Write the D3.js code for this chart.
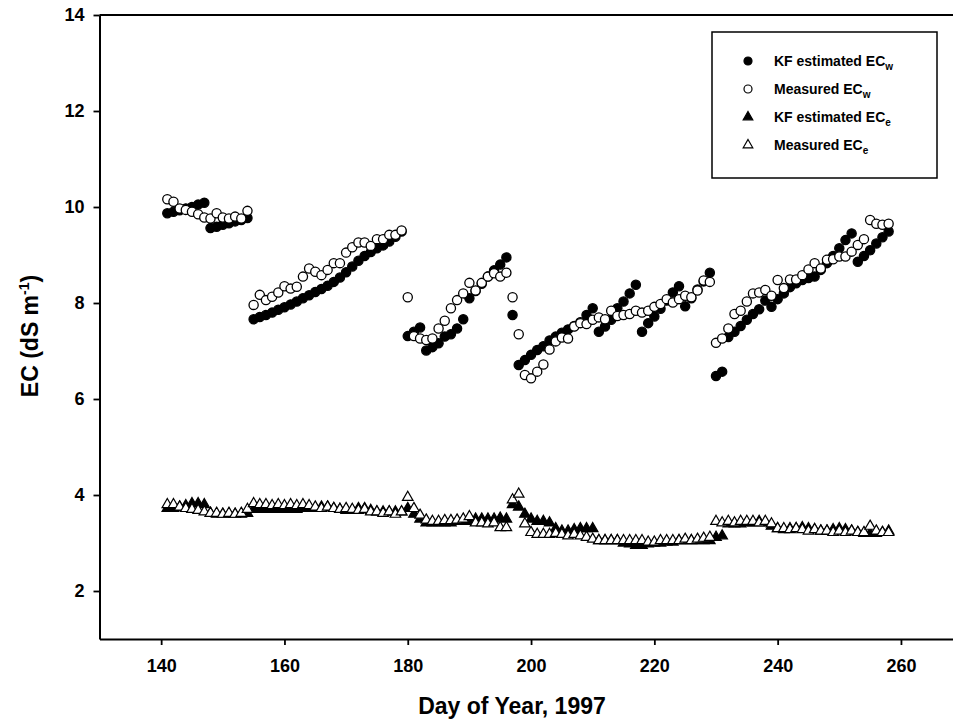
<!DOCTYPE html>
<html>
<head>
<meta charset="utf-8">
<script src="https://cdn.jsdelivr.net/npm/d3@7"></script>
<style>
  html, body { margin: 0; padding: 0; background: #fff; }
  svg { display: block; font-family: Arial, "Liberation Sans", Helvetica, sans-serif; }
</style>
</head>
<body>
<svg id="chart" width="953" height="727"></svg>
<script>
// Daily records, day of year 141 to 258 (1997)
const firstDay = 141;
const lastDay = 258;

// Kalman-filter estimate of soil water EC (dS/m)
const kfECw = [
  9.87, 9.90, 9.93, 9.97, 10.00, 10.05, 10.09,
  9.56, 9.59, 9.63, 9.66, 9.70, 9.73, 9.77,
  7.66, 7.71, 7.75, 7.80, 7.86, 7.91, 7.97, 8.03, 8.10, 8.16, 8.23, 8.29, 8.36,
  8.44, 8.53, 8.64, 8.76, 8.88, 8.98, 9.06, 9.14, 9.20, 9.28, 9.38, 9.49,
  7.31,
  7.40, 7.49, 7.01, 7.08, 7.16, 7.30, 7.35, 7.47, 7.66, 8.10, 8.25, 8.40, 8.55, 8.68, 8.80, 8.95,
  7.75,
  6.71, 6.81, 6.92, 7.02, 7.10, 7.22, 7.30, 7.38, 7.45, 7.52, 7.60, 7.75, 7.89,
  7.40, 7.51, 7.65, 7.89, 8.03, 8.20, 8.38,
  7.40, 7.58, 7.72, 7.88, 8.05, 8.22, 8.35,
  7.93, 8.10, 8.28, 8.45, 8.63,
  6.48, 6.57, 7.29, 7.40, 7.52, 7.65, 7.77, 7.87, 8.05, 7.92, 8.08, 8.20, 8.33, 8.41,
  8.48, 8.52, 8.55, 8.69, 8.83, 8.98, 9.14, 9.31, 9.45, 8.86, 8.98, 9.10, 9.24, 9.37, 9.49
];

// Measured soil water EC (dS/m)
const measECw = [
  10.16, 10.11, 9.97, 9.94, 9.90, 9.85, 9.78, 9.76, 9.87, 9.78, 9.76, 9.80, 9.76, 9.92,
  7.96, 8.17, 8.06, 8.13, 8.22, 8.35, 8.30, 8.34, 8.55, 8.72, 8.65, 8.58, 8.69,
  8.83, 8.83, 9.05, 9.16, 9.26, 9.26, 9.19, 9.33, 9.33, 9.42, 9.42, 9.51,
  8.12,
  7.31, 7.26, 7.23, 7.26, 7.47, 7.63, 7.89, 8.06, 8.20, 8.42, 8.26, 8.42, 8.55, 8.62, 8.55, 8.63,
  8.12,
  7.35,
  6.50, 6.43, 6.57, 6.72, 7.03, 7.20, 7.28, 7.26, 7.51, 7.58, 7.56, 7.65, 7.70, 7.66, 7.84, 7.73,
  7.75, 7.77, 7.84, 7.80, 7.84, 7.92, 7.98, 8.08, 8.01, 8.08, 8.15, 8.12, 8.26, 8.47, 8.44,
  7.17, 7.26, 7.47, 7.77, 7.84, 8.03, 8.20, 8.22, 8.27, 8.15, 8.48, 8.31, 8.49, 8.49, 8.58,
  8.70, 8.83, 8.72, 8.90, 8.91, 8.97, 8.97, 9.07, 9.21, 9.33, 9.73, 9.65, 9.63, 9.65
];

// Kalman-filter estimate of saturated-paste extract EC (dS/m)
const kfECe = [
  3.72, 3.72, 3.75, 3.78, 3.82, 3.82, 3.80, 3.62, 3.60, 3.60, 3.60, 3.60, 3.60, 3.62,
  3.70, 3.70, 3.70, 3.70, 3.70, 3.70, 3.70, 3.70, 3.72, 3.72, 3.72, 3.75, 3.75,
  3.72, 3.70, 3.68, 3.68, 3.72, 3.72, 3.68, 3.65, 3.65, 3.65, 3.65, 3.65,
  3.72,
  3.60, 3.50, 3.42, 3.42, 3.42, 3.42, 3.42, 3.45, 3.45, 3.45, 3.50, 3.50, 3.50, 3.50, 3.52, 3.50,
  3.80, 3.75,
  3.60, 3.50, 3.45, 3.45, 3.42, 3.30, 3.25, 3.25, 3.28, 3.30, 3.30, 3.30, 3.05, 3.05, 3.05, 3.05,
  3.00, 2.98, 2.95, 2.95, 2.98, 3.00, 3.00, 3.02, 3.02, 3.05, 3.05, 3.05, 3.05, 3.05, 3.05,
  3.12, 3.15, 3.40, 3.40, 3.40, 3.42, 3.42, 3.45, 3.42, 3.35, 3.30, 3.28, 3.30, 3.30, 3.32,
  3.30, 3.28, 3.25, 3.25, 3.28, 3.30, 3.28, 3.25, 3.22, 3.20, 3.20, 3.20, 3.22, 3.25
];

// Measured saturated-paste extract EC (dS/m)
const measECe = [
  3.80, 3.80, 3.75, 3.72, 3.70, 3.68, 3.65, 3.62, 3.62, 3.60, 3.62, 3.60, 3.62, 3.70,
  3.82, 3.80, 3.80, 3.78, 3.80, 3.78, 3.80, 3.78, 3.80, 3.78, 3.75, 3.72, 3.75,
  3.72, 3.70, 3.72, 3.70, 3.68, 3.70, 3.65, 3.65, 3.62, 3.65, 3.60, 3.65,
  3.95,
  3.72, 3.58, 3.48, 3.45, 3.45, 3.47, 3.47, 3.48, 3.50, 3.55, 3.42, 3.42, 3.40, 3.42, 3.32, 3.32,
  3.90, 4.02,
  3.40, 3.22, 3.18, 3.18, 3.18, 3.20, 3.18, 3.15, 3.18, 3.15, 3.12, 3.08, 3.05, 3.05, 3.05, 3.05,
  3.05, 3.05, 3.05, 3.05, 3.02, 3.02, 3.05, 3.05, 3.05, 3.05, 3.08, 3.05, 3.08, 3.10, 3.12,
  3.45, 3.42, 3.45, 3.42, 3.45, 3.45, 3.45, 3.42, 3.45, 3.40, 3.30, 3.30, 3.28, 3.30, 3.28,
  3.25, 3.28, 3.25, 3.25, 3.22, 3.25, 3.22, 3.25, 3.22, 3.22, 3.35, 3.25, 3.22, 3.22
];

const xTicks = [140, 160, 180, 200, 220, 240, 260];
const yTicks = [2, 4, 6, 8, 10, 12, 14];
const legendLabels = [
  { main: "KF estimated EC", sub: "w" },
  { main: "Measured EC", sub: "w" },
  { main: "KF estimated EC", sub: "e" },
  { main: "Measured EC", sub: "e" }
];

const days = d3.range(firstDay, lastDay + 1);

const svg = d3.select("#chart");
const x = d3.scaleLinear().domain([130, 270]).range([99.5, 962.6]);
const y = d3.scaleLinear().domain([1, 14]).range([639, 15]);

const axisFont = "bold 18px Arial, 'Liberation Sans', sans-serif";
const titleFont = "bold 23px Arial, 'Liberation Sans', sans-serif";

// Axes
const gx = svg.append("g")
  .attr("transform", `translate(0,${y(1)})`)
  .call(d3.axisBottom(x).tickValues(xTicks).tickSize(6).tickPadding(14).tickSizeOuter(0));
const gy = svg.append("g")
  .attr("transform", `translate(${x(130)},0)`)
  .call(d3.axisLeft(y).tickValues(yTicks).tickSize(6).tickPadding(9).tickSizeOuter(0));
[gx, gy].forEach(g => {
  g.select(".domain").attr("stroke", "#000").attr("stroke-width", 2);
  g.selectAll(".tick line").attr("stroke", "#000").attr("stroke-width", 1.8);
  g.selectAll(".tick text").style("font", axisFont).attr("fill", "#000");
});

// Top frame line
svg.append("line")
  .attr("x1", x(130)).attr("x2", x(270))
  .attr("y1", y(14)).attr("y2", y(14))
  .attr("stroke", "#000").attr("stroke-width", 2);

// Axis titles
svg.append("text")
  .attr("x", 512).attr("y", 714)
  .attr("text-anchor", "middle")
  .style("font", titleFont)
  .text("Day of Year, 1997");

const yt = svg.append("text")
  .attr("transform", `translate(38,336) rotate(-90)`)
  .attr("text-anchor", "middle")
  .style("font", titleFont);
yt.append("tspan").text("EC (dS m");
yt.append("tspan").attr("dy", -9).style("font-size", "14px").text("-1");
yt.append("tspan").attr("dy", 9).text(")");

// Marker shapes
const circleR = 4.6;
const tri = d3.symbol().type(d3.symbolTriangle).size(48);

const plot = svg.append("g");

function drawCircles(values, filled) {
  plot.append("g").selectAll("circle")
    .data(days.map((d, i) => [d, values[i]]))
    .join("circle")
    .attr("cx", d => x(d[0]))
    .attr("cy", d => y(d[1]))
    .attr("r", circleR)
    .attr("fill", filled ? "#000" : "#fff")
    .attr("stroke", "#000")
    .attr("stroke-width", 1.3);
}
function drawTriangles(values, filled) {
  plot.append("g").selectAll("path")
    .data(days.map((d, i) => [d, values[i]]))
    .join("path")
    .attr("d", tri)
    .attr("transform", d => `translate(${x(d[0])},${y(d[1])})`)
    .attr("fill", filled ? "#000" : "#fff")
    .attr("stroke", "#000")
    .attr("stroke-width", 1.2);
}

drawCircles(kfECw, true);
drawCircles(measECw, false);
drawTriangles(kfECe, true);
drawTriangles(measECe, false);

// Legend
const lg = svg.append("g");
lg.append("rect")
  .attr("x", 712).attr("y", 32).attr("width", 225).attr("height", 146)
  .attr("fill", "#fff").attr("stroke", "#000").attr("stroke-width", 1.5);

const rowY = [61, 89, 117, 145];
legendLabels.forEach((lab, i) => {
  const cy = rowY[i];
  if (i < 2) {
    lg.append("circle").attr("cx", 748).attr("cy", cy).attr("r", 4)
      .attr("fill", i === 0 ? "#000" : "#fff").attr("stroke", "#000").attr("stroke-width", 1.2);
  } else {
    lg.append("path").attr("d", d3.symbol().type(d3.symbolTriangle).size(40)())
      .attr("transform", `translate(748,${cy})`)
      .attr("fill", i === 2 ? "#000" : "#fff").attr("stroke", "#000").attr("stroke-width", 1.2);
  }
  const t = lg.append("text").attr("x", 774).attr("y", cy + 5)
    .style("font", "bold 14px Arial, 'Liberation Sans', sans-serif");
  t.append("tspan").text(lab.main);
  t.append("tspan").attr("dy", 4).style("font-size", "10px").text(lab.sub);
});
</script>
</body>
</html>
